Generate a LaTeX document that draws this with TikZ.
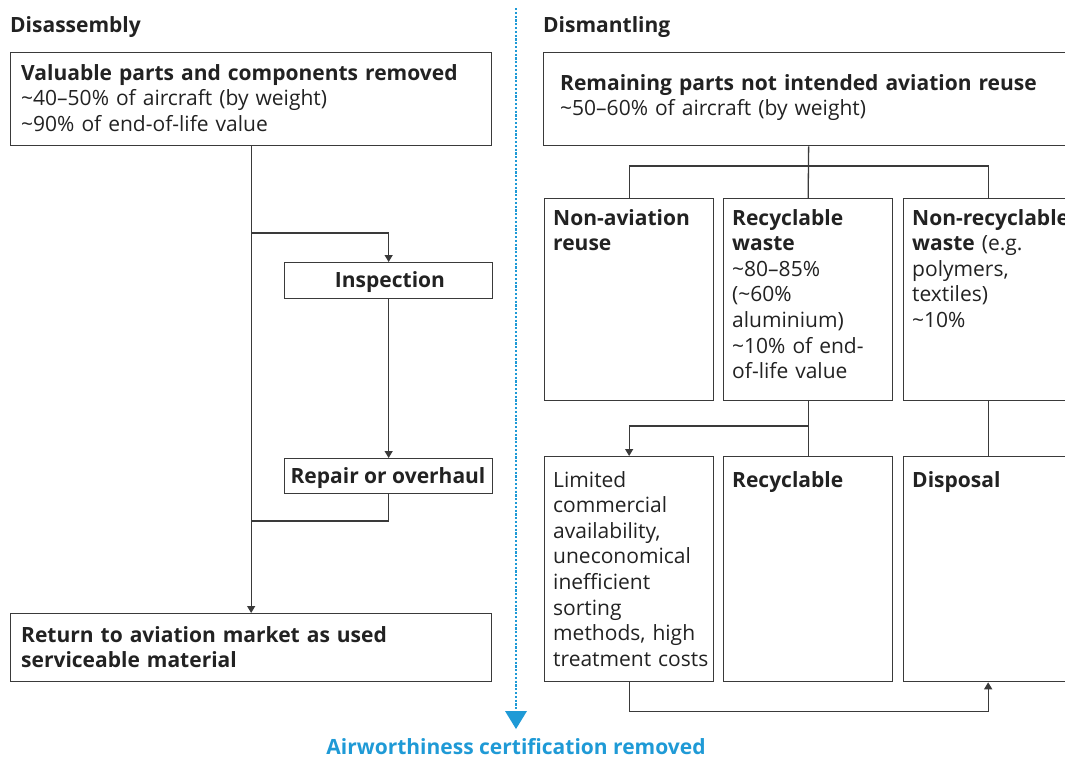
\documentclass[tikz,border=0pt]{standalone}
\usepackage{fontspec}
\setmainfont{Open Sans}
\usetikzlibrary{arrows.meta}
\definecolor{ink}{HTML}{222222}
\definecolor{edge}{HTML}{3A3A3A}
\definecolor{skyblue}{HTML}{1F9AD6}
\newcommand{\bodyfont}{\fontsize{21}{25.6}\selectfont}
\begin{document}
\begin{tikzpicture}[x=1pt,y=-1pt,
  box/.style={draw=edge,line width=1.3pt,rectangle,inner sep=0pt,anchor=north west},
  txt/.style={anchor=base west,inner sep=0pt,text=ink,align=left,font=\bodyfont},
  ctxt/.style={anchor=base,inner sep=0pt,text=ink,font=\bodyfont\bfseries},
  conn/.style={draw=edge,line width=1.3pt},
  arr/.style={conn,-{Triangle[width=8pt,length=7pt]}}]
\useasboundingbox (0,0) rectangle (1065,758);
\clip (0,0) rectangle (1065,758);
% titles
\node[txt,font=\bodyfont\bfseries] (t1) at (10,32) {Disassembly};
\node[txt,font=\bodyfont\bfseries] (t2) at (543,32) {Dismantling};
% left column boxes
\node[box,minimum width=481,minimum height=93] (b1) at (10,52) {};
\node[txt,text width=470] (b1t) at (21,80) {\textbf{Valuable parts and components removed}\\\textasciitilde40–50\% of aircraft (by weight)\\\textasciitilde90\% of end-of-life value};
\node[box,minimum width=208,minimum height=36] (insp) at (284,262) {};
\node[ctxt] (inspt) at (390,287) {Inspection};
\node[box,minimum width=208,minimum height=35] (rep) at (284,458) {};
\node[ctxt] (rept) at (388,483) {Repair or overhaul};
\node[box,minimum width=481,minimum height=68] (ret) at (10,613) {};
\node[txt,text width=470] (rett) at (21,642) {\textbf{Return to aviation market as used}\\\textbf{serviceable material}};
% left connectors
\draw[arr] (b1.south) -- (ret.north);
\draw[arr] (b1.south |- 0,233) -| (insp.north);
\draw[arr] (insp.south) -- (rep.north);
\draw[conn] (rep.south) |- (b1.south |- 0,521);
% right column boxes
\node[box,minimum width=530,minimum height=93] (rt) at (543,52) {};
\node[txt,text width=510] (rtt) at (560,90) {\textbf{Remaining parts not intended aviation reuse}\\\textasciitilde50–60\% of aircraft (by weight)};
\node[box,minimum width=169,minimum height=202] (na) at (544,198) {};
\node[txt,text width=165] (nat) at (553,225) {\textbf{Non-aviation}\\\textbf{reuse}};
\node[box,minimum width=169,minimum height=202] (rw) at (723,198) {};
\node[txt,text width=165] (rwt) at (732,225) {\textbf{Recyclable}\\\textbf{waste}\\\textasciitilde80–85\%\\(\textasciitilde60\%\\aluminium)\\\textasciitilde10\% of end-\\of-life value};
\node[box,minimum width=169,minimum height=202] (nr) at (903,198) {};
\node[txt,text width=180] (nrt) at (912,225) {\textbf{Non-recyclable}\\\textbf{waste} (e.g.\\polymers,\\textiles)\\\textasciitilde10\%};
\node[box,minimum width=169,minimum height=225] (lim) at (544,456) {};
\node[txt,text width=170] (limt) at (553,487) {Limited\\commercial\\availability,\\uneconomical\\inefficient\\sorting\\methods, high\\treatment costs};
\node[box,minimum width=169,minimum height=225] (rc) at (723,456) {};
\node[txt,text width=165] (rct) at (732,487) {\textbf{Recyclable}};
\node[box,minimum width=169,minimum height=225] (dis) at (903,456) {};
\node[txt,text width=165] (dist) at (912,487) {\textbf{Disposal}};
% right connectors
\draw[conn] (rt.south) -- (rw.north);
\draw[conn] (na.north) |- (rt.south |- 0,166) -| (nr.north);
\draw[conn] (rw.south) -- (rc.north);
\draw[arr] (rw.south |- 0,426) -| (lim.north);
\draw[conn] (nr.south) -- (dis.north);
\draw[arr] (lim.south) -- ++(0,29) -| (dis.south);
% divider
\coordinate (dtop) at (516,8);
\coordinate (dbot) at (516,711);
\draw[skyblue,line width=2.4pt,dash pattern=on 2.2pt off 1.6pt] (dtop) -- (dbot);
\fill[skyblue] (dbot) ++(-11,0) -- ++(22,0) -- (516,729) -- cycle;
\node[anchor=base,inner sep=0pt,text=skyblue,font=\bodyfont\bfseries] (air) at (516,754) {Airworthiness certification removed};
\end{tikzpicture}
\end{document}
